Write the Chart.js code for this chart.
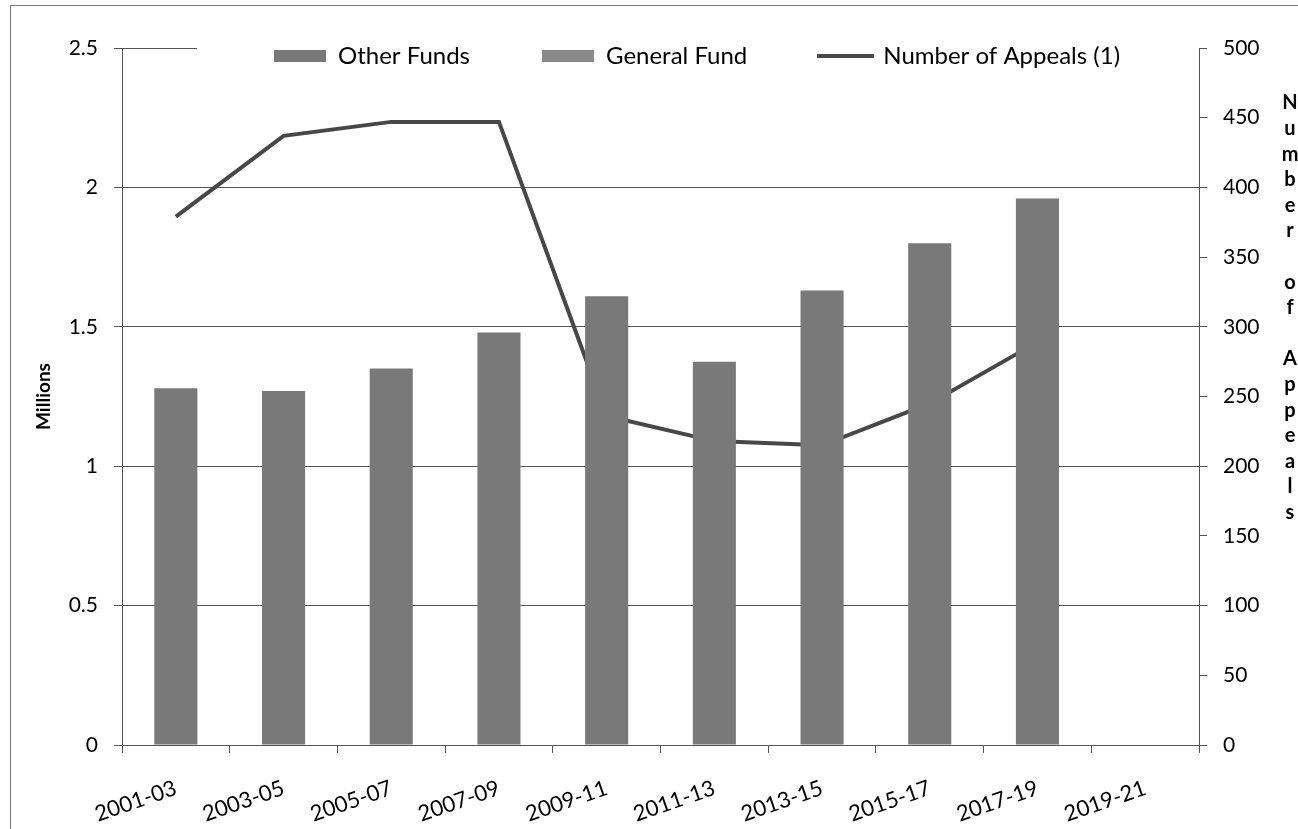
<!DOCTYPE html>
<html><head><meta charset="utf-8">
<script src="https://cdn.jsdelivr.net/npm/chart.js@4"></script>
<style>html,body{margin:0;padding:0;background:#fff}#wrap{position:relative;width:1298px;height:829px}</style>
</head><body><div id="wrap"><canvas id="c" width="1298" height="829"></canvas></div>
<script>
const categories = ['2001-03','2003-05','2005-07','2007-09','2009-11','2011-13','2013-15','2015-17','2017-19','2019-21'];
const otherFunds = [1.28, 1.27, 1.35, 1.48, 1.61, 1.375, 1.63, 1.80, 1.96, null];
const generalFund = [0, 0, 0, 0, 0, 0, 0, 0, 0, null];
const appeals = [379, 437, 447, 447, 236, 218, 215, 245, 289, null];
const seriesNames = ['Other Funds', 'General Fund', 'Number of Appeals (1)'];
const leftAxisTitle = 'Millions';
const rightAxisTitle = 'Number of Appeals';

const CAL = "Lato, 'Open Sans', sans-serif";
const LINE_COLOR = '#474747';

// legend symbol for the line series
const lineSymbol = document.createElement('canvas');
lineSymbol.width = 57; lineSymbol.height = 4;
(function(){ const g = lineSymbol.getContext('2d'); g.fillStyle = LINE_COLOR; g.fillRect(0, 0, 57, 4); })();

const extrasPlugin = {
  id: 'extras',
  afterLayout(chart) {
    const lg = chart.legend;
    if (!lg || !lg.lineWidths) return;
    const h = lg.height;
    lg.top = chart.chartArea.top - 4; lg.bottom = lg.top + h;
    const start = (lg.left + lg.right - lg.lineWidths[0]) / 2;
    const shift = chart.chartArea.left + 152 - start;
    lg.left += shift; lg.right += shift;
  },
  afterDraw(chart) {
    const ctx = chart.ctx, ca = chart.chartArea;
    ctx.save();
    // outer frame
    ctx.strokeStyle = '#777'; ctx.lineWidth = 1;
    ctx.strokeRect(10.5, 5.5, chart.width, chart.height);
    // visible part of the top gridline (left of the legend box)
    const y = Math.round(chart.scales.y.getPixelForValue(2.5)) + 0.5;
    const endX = ca.left + 75;
    ctx.strokeStyle = '#555';
    ctx.beginPath(); ctx.moveTo(ca.left - 8, y); ctx.lineTo(endX, y); ctx.stroke();
    // right axis title, one letter per line
    ctx.fillStyle = '#000';
    ctx.font = "bold 20px Lato, sans-serif";
    ctx.textAlign = 'center'; ctx.textBaseline = 'middle';
    const letters = rightAxisTitle.split('');
    const x0 = chart.scales.y1.right - 8;
    letters.forEach((ch, i) => {
      if (ch !== ' ') ctx.fillText(ch, x0, ca.top + 55 + i * 25.6);
    });
    ctx.restore();
  }
};

new Chart(document.getElementById('c'), {
  type: 'bar',
  data: {
    labels: categories,
    datasets: [
      { label: seriesNames[0], data: otherFunds, backgroundColor: '#797979', borderWidth: 0,
        stack: 's', yAxisID: 'y', order: 1, barPercentage: 0.4, categoryPercentage: 1.0 },
      { label: seriesNames[1], data: generalFund, backgroundColor: '#898989', borderWidth: 0,
        stack: 's', yAxisID: 'y', order: 1, barPercentage: 0.4, categoryPercentage: 1.0 },
      { type: 'line', label: seriesNames[2], data: appeals, borderColor: LINE_COLOR, backgroundColor: LINE_COLOR,
        borderWidth: 4, pointRadius: 0, tension: 0, yAxisID: 'y1', order: 2, spanGaps: false }
    ]
  },
  options: {
    responsive: false,
    devicePixelRatio: 1,
    animation: false,
    layout: { padding: { top: 14, left: 0, right: 0, bottom: 0 } },
    plugins: {
      tooltip: { enabled: false },
      legend: {
        position: 'top',
        align: 'center',
        labels: {
          font: { family: CAL, size: 24 },
          color: '#000',
          usePointStyle: true,
          pointStyleWidth: 52,
          boxHeight: 12,
          padding: 0,
          generateLabels(chart) {
            const items = Chart.defaults.plugins.legend.labels.generateLabels(chart);
            const pads = ['\u2002'.repeat(6), '\u2002'.repeat(6), ''];
            items.forEach((it, i) => {
              if (i === 2) { it.pointStyle = lineSymbol; }
              else { it.pointStyle = 'rect'; it.lineWidth = 0; }
              it.text = it.text + pads[i];
            });
            return items;
          }
        }
      }
    },
    scales: {
      x: {
        stacked: true,
        grid: { display: true, drawOnChartArea: false, offset: true, tickLength: 8, color: '#555', tickColor: '#555' },
        border: { display: true, color: '#555', width: 1 },
        ticks: { font: { family: CAL, size: 22 }, color: '#000', minRotation: 19, maxRotation: 19, padding: 22 },
        afterFit(s) { s.height = 84; }
      },
      y: {
        stacked: true,
        position: 'left',
        min: 0, max: 2.5,
        ticks: { stepSize: 0.5, font: { family: CAL, size: 21 }, color: '#000', padding: 16,
                 callback: (v) => String(v) },
        grid: { color: (c) => (c.tick && c.tick.value === 2.5) ? 'rgba(0,0,0,0)' : '#555', tickColor: '#555', tickLength: 8, lineWidth: 1 },
        border: { display: true, color: '#555' },
        title: { display: true, text: leftAxisTitle, font: { family: CAL, size: 19, weight: 'bold' }, color: '#000', padding: { top: 32, bottom: 0 } },
        afterFit(s) { s.width = 122; }
      },
      y1: {
        position: 'right',
        min: 0, max: 500,
        ticks: { stepSize: 50, font: { family: CAL, size: 21 }, color: '#000', padding: 16 },
        grid: { drawOnChartArea: false, tickColor: '#555', tickLength: 8 },
        border: { display: true, color: '#555' },
        afterFit(s) { s.width = 99; }
      }
    }
  },
  plugins: [extrasPlugin]
});
</script></body></html>
